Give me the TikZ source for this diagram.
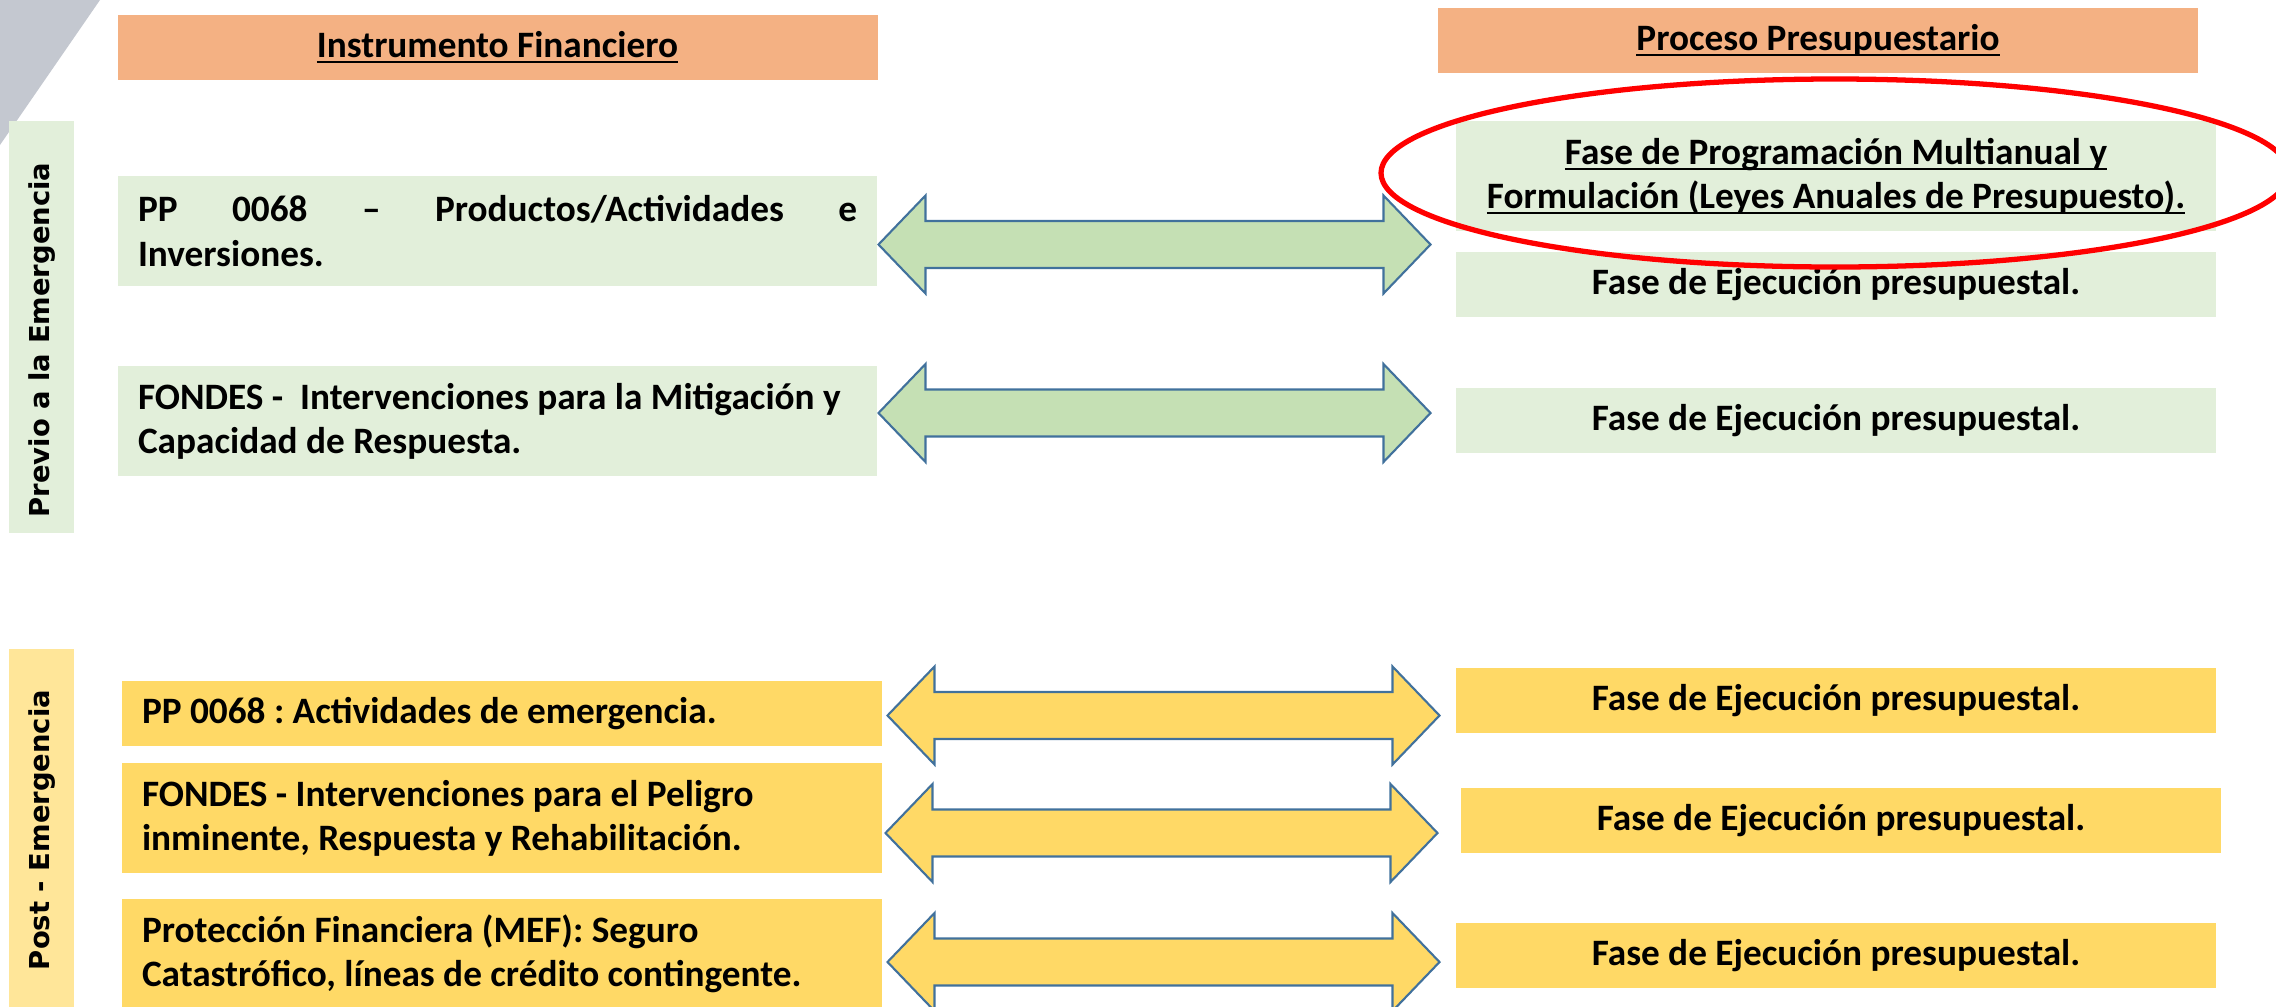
\documentclass[tikz,border=0pt]{standalone}
\usepackage{fontspec}
\setmainfont{Carlito}
\newfontfamily\sidefont{DejaVu Sans}
\usetikzlibrary{calc}
\frenchspacing
\newcommand{\undertext}[1]{\setbox0\hbox{#1}\rlap{\rule[-1.6pt]{\wd0}{0.6pt}}\box0}

\definecolor{hdrorange}{HTML}{F4B183}
\definecolor{palegreen}{HTML}{E2EFDA}
\definecolor{arrowgreen}{HTML}{C5E0B4}
\definecolor{gold}{HTML}{FFD966}
\definecolor{palegold}{HTML}{FFE699}
\definecolor{shapeblue}{HTML}{41719C}
\definecolor{cornergray}{RGB}{196,200,208}

\tikzset{
  every node/.style={font=\bfseries\fontsize{10.6}{12.6}\selectfont, inner sep=0pt},
  header/.style={fill=hdrorange, minimum width=76mm, minimum height=6.5mm},
  leftbox/.style={fill=#1, text width=72mm, inner xsep=2mm, minimum height=11mm, align=flush left},
  phasebox/.style={fill=#1, minimum width=76mm, minimum height=6.5mm, align=center},
  sidebar/.style={fill=#1, minimum width=6.5mm},
  sidelabel/.style={rotate=90, font=\sidefont\bfseries\fontsize{7.8}{9}\selectfont},
  pics/dblarrow/.style={code={
    \draw[shapeblue, line width=0.6pt, fill=#1]
      (-276,0) -- (-229,-49) -- (-229,-23.5) -- (229,-23.5) -- (229,-49) -- (276,0)
      -- (229,49) -- (229,23.5) -- (-229,23.5) -- (-229,49) -- cycle;
  }}
}

\begin{document}
\begin{tikzpicture}[x=0.1mm, y=-0.1mm]
\useasboundingbox (0,0) rectangle (2276,1006);
\fill[cornergray] (0,0) -- (100,0) -- (0,145) -- cycle;

% headers
\node[header] (hdrInst) at (497.5,47.5) {\undertext{Instrumento Financiero}};
\node[header] (hdrProc) at (1818,40.5) {\undertext{Proceso Presupuestario}};

% side bars
\node[sidebar=palegreen, minimum height=41.2mm] (barPrev) at (41.5,327) {};
\node[sidelabel] (lblPrev) at (42,340) {Previo a la Emergencia};
\node[sidebar=palegold, minimum height=36mm] (barPost) at (41.5,829) {};
\node[sidelabel] (lblPost) at (42,830) {Post - Emergencia};

% previo a la emergencia
\node[leftbox=palegreen, text width=71.9mm] (instPP) at (497.5,231)
  {PP\hfill 0068\hfill –\hfill Productos/Actividades\hfill e\\Inversiones.};
\node[leftbox=palegreen, text width=71.9mm] (instFon) at (497.5,421)
  {FONDES -\ \ Intervenciones para la Mitigación y\\Capacidad de Respuesta.};
\node[phasebox=palegreen, minimum height=11mm] (faseProg) at (1836,176)
  {\undertext{Fase de Programación Multianual y}\\\undertext{Formulación (Leyes Anuales de Presupuesto).}};
\node[phasebox=palegreen] (faseEjA) at (1836,284.5) {Fase de Ejecución presupuestal.};
\node[phasebox=palegreen] (faseEjB) at (1836,420.5) {Fase de Ejecución presupuestal.};

% post emergencia
\node[leftbox=gold, minimum height=6.5mm] (instAct) at (502,713.5) {PP 0068 : Actividades de emergencia.};
\node[leftbox=gold] (instPel) at (502,818)
  {FONDES - Intervenciones para el Peligro\\inminente, Respuesta y Rehabilitación.};
\node[leftbox=gold] (instMef) at (502,954)
  {Protección Financiera (MEF): Seguro\\Catastrófico, líneas de crédito contingente.};
\node[phasebox=gold] (faseEjC) at (1836,700.5) {Fase de Ejecución presupuestal.};
\node[phasebox=gold] (faseEjD) at (1841,820.5) {Fase de Ejecución presupuestal.};
\node[phasebox=gold] (faseEjE) at (1836,955.5) {Fase de Ejecución presupuestal.};

% flechas dobles
\pic (arrPP) at (1154.5,244.5) {dblarrow=arrowgreen};
\pic (arrFon) at (1154.5,413) {dblarrow=arrowgreen};
\pic (arrAct) at (1163.5,715.5) {dblarrow=gold};
\pic (arrPel) at (1161.5,833) {dblarrow=gold};
\pic (arrMef) at (1163.5,962) {dblarrow=gold};

% resaltado
\draw[red, line width=1.5pt] (1835,173) ellipse [x radius=454, y radius=94];
\end{tikzpicture}
\end{document}
